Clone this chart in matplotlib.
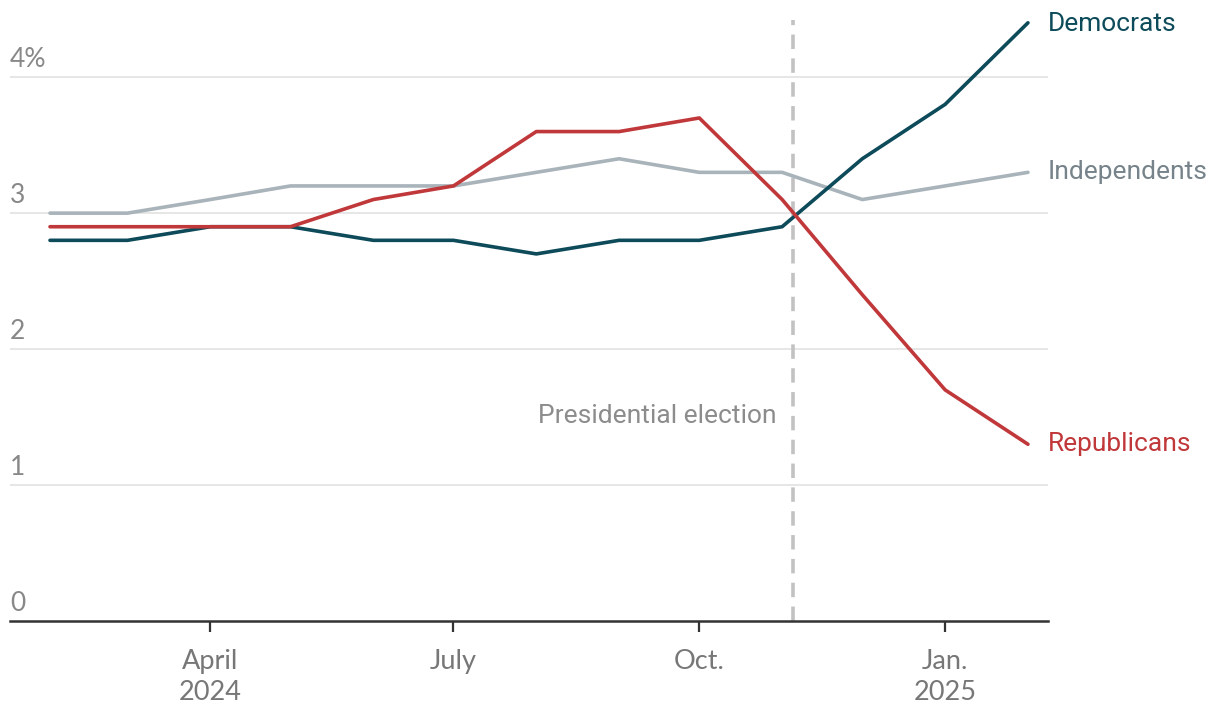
import matplotlib
matplotlib.use("Agg")
import matplotlib.pyplot as plt
import matplotlib.dates as mdates
from datetime import datetime, timedelta

months = ["2024-02", "2024-03", "2024-04", "2024-05", "2024-06", "2024-07", "2024-08",
          "2024-09", "2024-10", "2024-11", "2024-12", "2025-01", "2025-02"]
democrats = [2.8, 2.8, 2.9, 2.9, 2.8, 2.8, 2.7, 2.8, 2.8, 2.9, 3.4, 3.8, 4.4]
republicans = [2.9, 2.9, 2.9, 2.9, 3.1, 3.2, 3.6, 3.6, 3.7, 3.1, 2.4, 1.7, 1.3]
independents = [3.0, 3.0, 3.1, 3.2, 3.2, 3.2, 3.3, 3.4, 3.3, 3.3, 3.1, 3.2, 3.3]
y_ticks = [0, 1, 2, 3, 4]
y_tick_labels = ["0", "1", "2", "3", "4%"]
x_ticks = ["2024-04", "2024-07", "2024-10", "2025-01"]
x_tick_labels = ["April\n2024", "July", "Oct.", "Jan.\n2025"]
election_date = "2024-11-05"

dates = [datetime.strptime(m + "-01", "%Y-%m-%d") for m in months]
xt = [datetime.strptime(m + "-01", "%Y-%m-%d") for m in x_ticks]
elec = datetime.strptime(election_date, "%Y-%m-%d")

FONT = ["Lato", "DejaVu Sans"]
plt.rcParams["font.family"] = FONT
LABF = ["Roboto", "DejaVu Sans"]

fig = plt.figure(figsize=(12.2, 7.2), dpi=100)
ax = fig.add_axes([10 / 1220, 1 - 621 / 720, (1048 - 10) / 1220, (621 - 16) / 720])

c_dem = "#0d4b5a"
c_rep = "#c0383a"
c_ind = "#a9b3ba"

for v in y_ticks[1:]:
    ax.axhline(v, color="#e2e2e2", lw=1.2, zorder=0)

ax.plot([elec, elec], [0, 4.42], color="#c2c2c2", lw=2.6, ls=(0, (4, 2.6)), zorder=1)

ax.plot(dates, independents, color=c_ind, lw=2.6, solid_capstyle="round", zorder=2)
ax.plot(dates, democrats, color=c_dem, lw=2.6, solid_capstyle="round", zorder=3)
ax.plot(dates, republicans, color=c_rep, lw=2.6, solid_capstyle="round", zorder=4)

x0 = dates[0] - timedelta(days=14.97)
x1 = dates[-1] + timedelta(days=7.5)
ax.set_xlim(x0, x1)
ax.set_ylim(0, 4.45)

for v, lab in zip(y_ticks, y_tick_labels):
    ax.text(x0, v + 0.04, lab, ha="left", va="bottom", fontsize=19, color="#888888")

lab_x = dates[-1] + timedelta(days=7.5)
ax.text(lab_x, democrats[-1] - 0.01, "Democrats", color=c_dem, fontsize=19,
        ha="left", va="center", clip_on=False, family=LABF)
ax.text(lab_x, independents[-1], "Independents", color="#76838a", fontsize=19,
        ha="left", va="center", clip_on=False, family=LABF)
ax.text(lab_x, republicans[-1], "Republicans", color=c_rep, fontsize=19,
        ha="left", va="center", clip_on=False, family=LABF)
ax.text(elec - timedelta(days=6), 1.51, "Presidential election", color="#8c8c8c",
        fontsize=19, ha="right", va="center", family=LABF)

ax.set_xticks(xt)
ax.set_xticklabels(x_tick_labels, fontsize=19.5, color="#777777", linespacing=1.3)
ax.set_yticks([])
ax.tick_params(axis="x", length=8, width=1.6, color="#333333", pad=12)

for s in ["top", "right", "left"]:
    ax.spines[s].set_visible(False)
ax.spines["bottom"].set_color("#333333")
ax.spines["bottom"].set_linewidth(1.8)

fig.savefig("out.png", dpi=100)
